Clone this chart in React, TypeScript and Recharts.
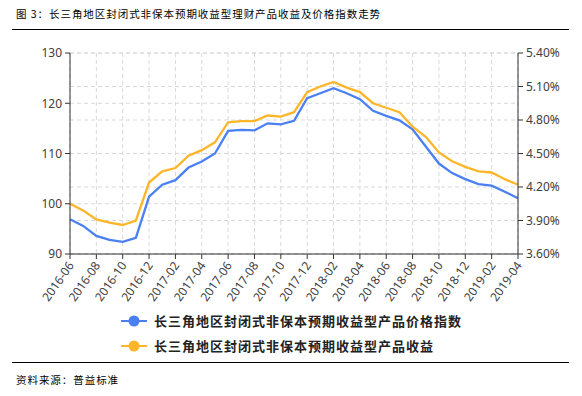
import React from 'react';
import { LineChart, Line, XAxis, YAxis, CartesianGrid, Legend } from 'recharts';

const months = [
  '2016-06','2016-07','2016-08','2016-09','2016-10','2016-11','2016-12',
  '2017-01','2017-02','2017-03','2017-04','2017-05','2017-06','2017-07','2017-08','2017-09','2017-10','2017-11','2017-12',
  '2018-01','2018-02','2018-03','2018-04','2018-05','2018-06','2018-07','2018-08','2018-09','2018-10','2018-11','2018-12',
  '2019-01','2019-02','2019-03','2019-04',
];

const priceIndex = [
  96.9, 95.6, 93.6, 92.8, 92.4, 93.2, 101.4, 103.8, 104.7, 107.2, 108.4, 110.0,
  114.5, 114.7, 114.6, 116.0, 115.8, 116.5, 121.0, 122.0, 123.0, 122.0, 120.8, 118.5,
  117.5, 116.6, 114.8, 111.4, 108.0, 106.1, 104.9, 103.9, 103.6, 102.4, 101.1,
];

const yieldPct = [
  4.05, 3.99, 3.91, 3.88, 3.86, 3.90, 4.24, 4.34, 4.37, 4.48, 4.53, 4.60,
  4.78, 4.79, 4.79, 4.84, 4.83, 4.87, 5.05, 5.10, 5.14, 5.09, 5.05, 4.95,
  4.91, 4.87, 4.74, 4.65, 4.51, 4.43, 4.38, 4.34, 4.33, 4.27, 4.22,
];

const xTicks = months.filter((_, i) => i % 2 === 0);
const leftTicks = [90, 100, 110, 120, 130];
const rightTicks = [3.6, 3.9, 4.2, 4.5, 4.8, 5.1, 5.4];

const seriesNames = [
  '长三角地区封闭式非保本预期收益型产品价格指数',
  '长三角地区封闭式非保本预期收益型产品收益',
];
const titleText = '图 3：长三角地区封闭式非保本预期收益型理财产品收益及价格指数走势';
const sourceText = '资料来源：普益标准';

const BLUE = '#4a80f2';
const YELLOW = '#fdb62a';

const data = months.map((m, i) => ({ month: m, index: priceIndex[i], yld: yieldPct[i] }));

const XTick = (props: any) => {
  const { x, y, payload } = props;
  return (
    <g transform={`translate(${x + 1},${y + 2})`}>
      <text
        x={0}
        y={0}
        dy="0.35em"
        textAnchor="end"
        transform="rotate(-55)"
        fill="#404040"
        fontSize={12}
        fontFamily="'Noto Sans', sans-serif"
      >
        {payload.value}
      </text>
    </g>
  );
};

const LegendContent = () => {
  const colors = [BLUE, YELLOW];
  return (
    <div style={{ paddingLeft: 121 }}>
      {seriesNames.map((n, i) => (
        <div key={n} style={{ display: 'flex', alignItems: 'center', height: 25 }}>
          <svg width={26} height={12} style={{ marginRight: 7 }}>
            <line x1={0} y1={6} x2={26} y2={6} stroke={colors[i]} strokeWidth={2} />
            <circle cx={13} cy={6} r={5.5} fill={colors[i]} />
          </svg>
          <span
            style={{
              fontFamily: "'Noto Sans CJK SC', sans-serif",
              fontWeight: 'bold',
              fontSize: 13,
              letterSpacing: 1.0,
              color: '#222',
              whiteSpace: 'nowrap',
            }}
          >
            {n}
          </span>
        </div>
      ))}
    </div>
  );
};

export default function App() {
  return (
    <div style={{ position: 'absolute', left: 0, top: 0, width: 582, height: 396, background: '#fff' }}>
      <div
        style={{
          position: 'absolute',
          left: 16,
          top: 7,
          fontFamily: "'Noto Sans CJK SC', sans-serif",
          fontSize: 10.5,
          letterSpacing: 0.95,
          lineHeight: '14px',
          color: '#000',
          whiteSpace: 'nowrap',
        }}
      >
        {titleText}
      </div>
      <div style={{ position: 'absolute', left: 12, top: 28.5, width: 557, height: 1.5, background: '#000' }} />
      <div style={{ position: 'absolute', left: 0, top: 0 }}>
        <LineChart width={582} height={396} data={data} margin={{ top: 53, right: 4, left: 10, bottom: 82 }}>
          <CartesianGrid yAxisId="left" stroke="#d9d9d9" strokeDasharray="4 3" vertical={true} />
          <CartesianGrid yAxisId="right" stroke="#d9d9d9" strokeDasharray="4 3" vertical={false} />
          <XAxis
            dataKey="month"
            ticks={xTicks}
            interval={0}
            height={60}
            tickSize={5}
            stroke="#333"
            tick={<XTick />}
          />
          <YAxis
            yAxisId="left"
            orientation="left"
            domain={[90, 130]}
            ticks={leftTicks}
            width={60}
            tickSize={5}
            tickMargin={3}
            stroke="#333"
            tick={{ fill: '#404040', fontSize: 12, fontFamily: "'Noto Sans', sans-serif" }}
          />
          <YAxis
            yAxisId="right"
            orientation="right"
            domain={[3.6, 5.4]}
            ticks={rightTicks}
            width={60}
            tickSize={5}
            tickMargin={3}
            stroke="#333"
            tickFormatter={(v: number) => `${v.toFixed(2)}%`}
            tick={{ fill: '#404040', fontSize: 12, fontFamily: "'Noto Sans', sans-serif" }}
          />
          <Line
            yAxisId="left"
            type="linear"
            dataKey="index"
            name={seriesNames[0]}
            stroke={BLUE}
            strokeWidth={2.3}
            dot={false}
            isAnimationActive={false}
          />
          <Line
            yAxisId="right"
            type="linear"
            dataKey="yld"
            name={seriesNames[1]}
            stroke={YELLOW}
            strokeWidth={2.3}
            dot={false}
            isAnimationActive={false}
          />
          <Legend
            layout="vertical"
            align="center"
            verticalAlign="middle"
            wrapperStyle={{ top: 308, left: 0, width: 582 }}
            content={<LegendContent />}
          />
        </LineChart>
      </div>
      <div style={{ position: 'absolute', left: 12, top: 361.5, width: 557, height: 1.5, background: '#000' }} />
      <div
        style={{
          position: 'absolute',
          left: 16,
          top: 373,
          fontFamily: "'Noto Sans CJK SC', sans-serif",
          fontSize: 10.5,
          letterSpacing: 0.95,
          lineHeight: '14px',
          color: '#000',
          whiteSpace: 'nowrap',
        }}
      >
        {sourceText}
      </div>
    </div>
  );
}
